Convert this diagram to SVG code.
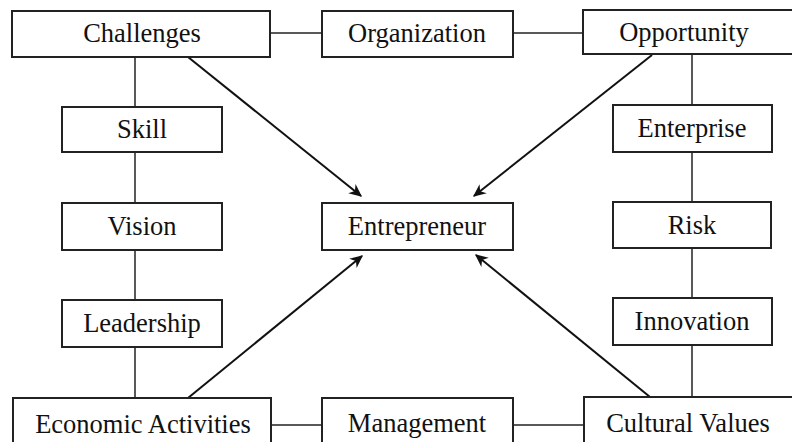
<svg xmlns="http://www.w3.org/2000/svg" width="792" height="442" viewBox="0 0 792 442">
<defs>
<style>
.box{fill:#fff;stroke:#222;stroke-width:2}
.t{font-family:"Liberation Serif","Times New Roman",serif;font-size:26.5px;fill:#111;text-anchor:middle}
.ln{stroke:#222;stroke-width:1.5;fill:none}
.ar{stroke:#111;stroke-width:2;fill:none;marker-end:url(#ah)}
</style>
<marker id="ah" viewBox="0 0 10 10" refX="9" refY="5" markerWidth="13" markerHeight="13" orient="auto" markerUnits="userSpaceOnUse">
<path d="M0,0.5 L10,5 L0,9.5 L3,5 Z" fill="#111"/>
</marker>
</defs>
<rect width="792" height="442" fill="#fff"/>
<g id="connectors">
<line class="ln" x1="270" y1="33" x2="322" y2="33"/>
<line class="ln" x1="513" y1="33" x2="583" y2="33"/>
<line class="ln" x1="135" y1="57" x2="135" y2="107"/>
<line class="ln" x1="135" y1="152" x2="135" y2="203"/>
<line class="ln" x1="135" y1="250" x2="135" y2="300"/>
<line class="ln" x1="135" y1="347" x2="135" y2="398"/>
<line class="ln" x1="692" y1="54" x2="692" y2="105"/>
<line class="ln" x1="692" y1="152" x2="692" y2="202"/>
<line class="ln" x1="692" y1="248" x2="692" y2="298"/>
<line class="ln" x1="692" y1="345" x2="692" y2="397"/>
<line class="ln" x1="271" y1="425" x2="322" y2="425"/>
<line class="ln" x1="513" y1="425" x2="584" y2="425"/>
<line class="ar" x1="188" y1="57" x2="361" y2="196"/>
<line class="ar" x1="652" y1="55" x2="474" y2="196"/>
<line class="ar" x1="188" y1="398" x2="362" y2="256"/>
<line class="ar" x1="650" y1="397" x2="476" y2="255"/>
</g>
<g id="n-challenges"><rect class="box" x="12" y="11" width="258" height="46"/><text class="t" x="142" y="42">Challenges</text></g>
<g id="n-organization"><rect class="box" x="322" y="11" width="191" height="46"/><text class="t" x="417" y="42">Organization</text></g>
<g id="n-opportunity"><rect class="box" x="583" y="10" width="215" height="44"/><text class="t" x="684" y="41">Opportunity</text></g>
<g id="n-skill"><rect class="box" x="62" y="107" width="160" height="45"/><text class="t" x="142" y="138">Skill</text></g>
<g id="n-enterprise"><rect class="box" x="613" y="105" width="159" height="47"/><text class="t" x="692" y="137">Enterprise</text></g>
<g id="n-vision"><rect class="box" x="62" y="203" width="160" height="47"/><text class="t" x="142" y="235">Vision</text></g>
<g id="n-entrepreneur"><rect class="box" x="322" y="203" width="191" height="47"/><text class="t" x="417" y="235">Entrepreneur</text></g>
<g id="n-risk"><rect class="box" x="613" y="202" width="158" height="46"/><text class="t" x="692" y="234">Risk</text></g>
<g id="n-leadership"><rect class="box" x="62" y="300" width="160" height="47"/><text class="t" x="142" y="332">Leadership</text></g>
<g id="n-innovation"><rect class="box" x="613" y="298" width="159" height="47"/><text class="t" x="692" y="330">Innovation</text></g>
<g id="n-economic"><rect class="box" x="13" y="398" width="258" height="60"/><text class="t" x="143" y="433">Economic Activities</text></g>
<g id="n-management"><rect class="box" x="322" y="398" width="191" height="60"/><text class="t" x="417" y="432">Management</text></g>
<g id="n-cultural"><rect class="box" x="584" y="397" width="214" height="60"/><text class="t" x="688" y="432">Cultural Values</text></g>
</svg>
